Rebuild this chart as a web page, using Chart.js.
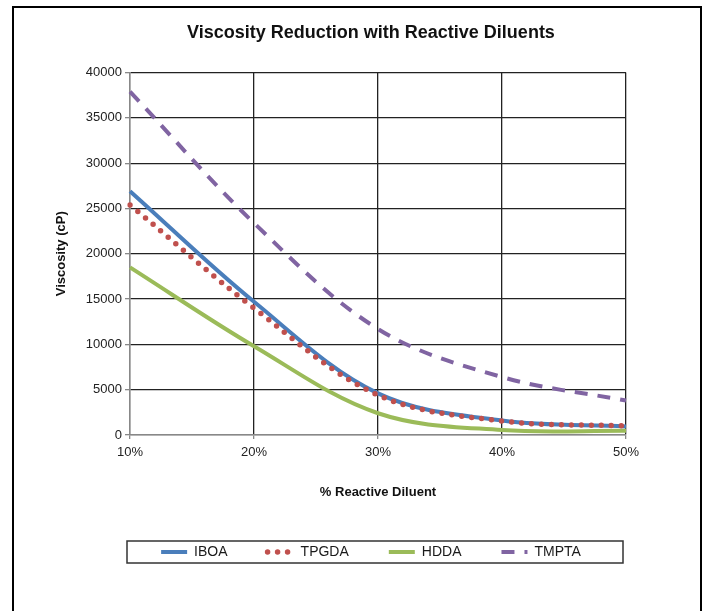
<!DOCTYPE html>
<html>
<head>
<meta charset="utf-8">
<script src="https://cdn.jsdelivr.net/npm/chart.js@4.4.0/dist/chart.umd.min.js"></script>
<style>
html, body { margin: 0; padding: 0; background: #fff; overflow: hidden; }
#wrap { position: relative; width: 705px; height: 611px; }
#frame { position: absolute; left: 12px; top: 6px; width: 686px; height: 700px; border: 2px solid #000; border-bottom: none; pointer-events: none; }
canvas { position: absolute; left: 0; top: 0; }
</style>
</head>
<body>
<div id="wrap">
  <canvas id="chart" width="705" height="611"></canvas>
  <div id="frame"></div>
</div>
<script>
// data
const diluentLevels = ['10%', '20%', '30%', '40%', '50%'];
const iboa = [26900, 14700, 4600, 1600, 950];
const tpgda = [25400, 14000, 4400, 1550, 1000];
const hdda = [18500, 9800, 2400, 550, 470];
const tmpta = [37900, 23400, 11700, 6400, 3800];

Chart.defaults.font.family = "'Liberation Sans', Arial, sans-serif";
Chart.defaults.color = '#333';

const gridColor = '#222';
const axisColor = '#888';

// box around the legend, as in the Excel original
const legendFrame = {
    id: 'legendFrame',
    afterDraw(chart) {
        const box = chart.legend.legendHitBoxes[0];
        const area = chart.chartArea;
        if (!box) return;
        const cy = box.top + box.height / 2;
        const ctx = chart.ctx;
        ctx.save();
        ctx.strokeStyle = '#333';
        ctx.lineWidth = 1.5;
        ctx.strokeRect(area.left - 3, cy - 11, area.right - area.left, 22);
        ctx.restore();
    }
};

new Chart(document.getElementById('chart'), {
    type: 'line',
    data: {
        labels: diluentLevels,
        datasets: [
            {
                label: 'IBOA',
                data: iboa,
                borderColor: '#4A7EBB',
                borderWidth: 4,
                order: 1
            },
            {
                label: 'TPGDA',
                data: tpgda,
                borderColor: '#C0504D',
                borderWidth: 5.5,
                borderDash: [0, 10],
                borderCapStyle: 'round',
                order: 0
            },
            {
                label: 'HDDA',
                data: hdda,
                borderColor: '#9BBB59',
                borderWidth: 4,
                order: 0
            },
            {
                label: 'TMPTA',
                data: tmpta,
                borderColor: '#8064A2',
                borderWidth: 4,
                borderDash: [13, 10],
                order: 0
            }
        ]
    },
    options: {
        responsive: false,
        animation: false,
        elements: {
            point: { radius: 0 },
            line: { tension: 0.35, fill: false }
        },
        layout: {
            padding: { left: 40, right: 3, top: 0, bottom: 42 }
        },
        plugins: {
            title: {
                display: true,
                text: 'Viscosity Reduction with Reactive Diluents',
                color: '#111',
                font: { size: 18, weight: 'bold' },
                padding: { top: 22, bottom: 29 }
            },
            legend: {
                display: true,
                position: 'bottom',
                labels: {
                    usePointStyle: true,
                    pointStyleWidth: 26,
                    padding: 40,
                    color: '#1a1a1a',
                    font: { size: 14 },
                    generateLabels: (chart) => chart.data.datasets.map((ds, i) => ({
                        text: ds.label,
                        strokeStyle: ds.borderColor,
                        fillStyle: 'rgba(0,0,0,0)',
                        lineWidth: ds.borderWidth,
                        lineDash: ds.borderDash || [],
                        lineCap: ds.borderCapStyle || 'butt',
                        pointStyle: 'line',
                        fontColor: '#1a1a1a',
                        hidden: false,
                        datasetIndex: i
                    }))
                }
            },
            tooltip: { enabled: false }
        },
        scales: {
            x: {
                ticks: { color: '#222', font: { size: 13 }, padding: 6, maxRotation: 0 },
                grid: {
                    color: (c) => c.index === 0 ? axisColor : gridColor,
                    lineWidth: 1.3,
                    tickColor: axisColor,
                    tickLength: 4
                },
                border: { color: axisColor, width: 1.5 },
                title: {
                    display: true,
                    text: '% Reactive Diluent',
                    color: '#111',
                    font: { size: 13, weight: 'bold' },
                    padding: { top: 0, bottom: 5 }
                },
                afterFit: (s) => { s.height = 70; }
            },
            y: {
                min: 0,
                max: 40000,
                ticks: {
                    stepSize: 5000,
                    color: '#222',
                    font: { size: 13 },
                    padding: 3,
                    callback: (v) => String(v)
                },
                grid: {
                    color: (c) => c.tick && c.tick.value === 0 ? axisColor : gridColor,
                    lineWidth: 1.3,
                    tickColor: axisColor,
                    tickLength: 5
                },
                border: { color: axisColor, width: 1.5 },
                title: {
                    display: true,
                    text: 'Viscosity (cP)',
                    color: '#111',
                    font: { size: 13, weight: 'bold' },
                    padding: { top: 14, bottom: 0 }
                },
                afterFit: (s) => { s.width = 90; }
            },
            // empty right-hand band so the plot ends where the original does
            yPad: {
                type: 'linear',
                axis: 'y',
                position: 'right',
                display: true,
                ticks: { display: false },
                grid: { display: false },
                border: { display: false },
                afterFit: (s) => { s.width = 76; }
            }
        }
    },
    plugins: [legendFrame]
});
</script>
</body>
</html>
